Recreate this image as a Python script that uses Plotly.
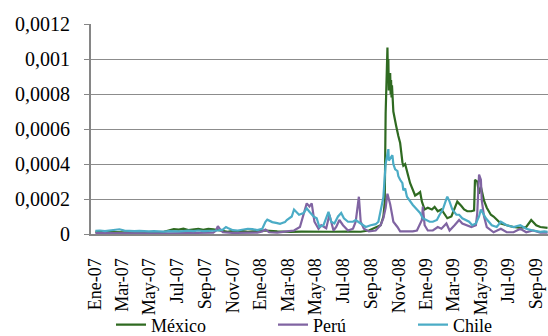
import plotly.graph_objects as go

# Serie diaria de varianza condicional, enero 2007 - septiembre 2009

mexico_dates = [
    "2007-01-02", "2007-01-23", "2007-02-13", "2007-03-07", "2007-03-29", "2007-04-20",
    "2007-05-11", "2007-06-02", "2007-06-13", "2007-06-24", "2007-07-05", "2007-07-15",
    "2007-07-26", "2007-08-06", "2007-08-17", "2007-08-28", "2007-09-08", "2007-09-19",
    "2007-09-29", "2007-10-10", "2007-10-21", "2007-11-01", "2007-11-12", "2007-11-23",
    "2007-12-04", "2007-12-25", "2008-01-12", "2008-02-07", "2008-03-06", "2008-04-01",
    "2008-05-04", "2008-06-05", "2008-07-08", "2008-08-09", "2008-08-27", "2008-09-11",
    "2008-09-22", "2008-09-28", "2008-10-01", "2008-10-03", "2008-10-05", "2008-10-06",
    "2008-10-07", "2008-10-08", "2008-10-09", "2008-10-10", "2008-10-13", "2008-10-14",
    "2008-10-15", "2008-10-16", "2008-10-17", "2008-10-20", "2008-10-23", "2008-10-26",
    "2008-10-31", "2008-11-04", "2008-11-09", "2008-11-11", "2008-11-15", "2008-11-19",
    "2008-11-22", "2008-11-26", "2008-12-02", "2008-12-07", "2008-12-13", "2008-12-18",
    "2008-12-22", "2008-12-28", "2009-01-04", "2009-01-13", "2009-01-19", "2009-01-26",
    "2009-02-03", "2009-02-10", "2009-02-16", "2009-02-25", "2009-03-04", "2009-03-10",
    "2009-03-19", "2009-03-25", "2009-04-01", "2009-04-10", "2009-04-16", "2009-04-18",
    "2009-04-23", "2009-04-27", "2009-05-01", "2009-05-08", "2009-05-14", "2009-05-23",
    "2009-05-29", "2009-06-14", "2009-06-27", "2009-07-12", "2009-07-27", "2009-08-09",
    "2009-08-20", "2009-08-31", "2009-09-09", "2009-09-18", "2009-09-25",
]
mexico_values = [
    0.000012, 0.000010, 0.000012, 0.000010, 0.000011, 0.000009,
    0.000010, 0.000012, 0.000020, 0.000028, 0.000025, 0.000030,
    0.000022, 0.000026, 0.000029, 0.000024, 0.000030, 0.000027,
    0.000022, 0.000015, 0.000012, 0.000018, 0.000014, 0.000016,
    0.000012, 0.000018, 0.000020, 0.000015, 0.000012, 0.000014,
    0.000012, 0.000013, 0.000014, 0.000013, 0.000020, 0.000036,
    0.000050, 0.000100, 0.000180, 0.000690, 0.000880, 0.000950,
    0.001065, 0.000900, 0.001000, 0.000820, 0.000920, 0.000800,
    0.000880, 0.000780, 0.000850, 0.000700, 0.000650, 0.000620,
    0.000560, 0.000520, 0.000410, 0.000390, 0.000400, 0.000350,
    0.000330, 0.000290, 0.000250, 0.000220, 0.000230, 0.000240,
    0.000185, 0.000140, 0.000150, 0.000140, 0.000155, 0.000130,
    0.000140, 0.000110, 0.000090, 0.000100, 0.000150, 0.000185,
    0.000160, 0.000140, 0.000130, 0.000130, 0.000135, 0.000310,
    0.000300, 0.000230, 0.000270, 0.000190, 0.000150, 0.000110,
    0.000100, 0.000060, 0.000050, 0.000040, 0.000035, 0.000040,
    0.000080, 0.000050, 0.000040, 0.000035, 0.000035,
]

peru_dates = [
    "2007-01-02", "2007-02-03", "2007-03-07", "2007-04-09", "2007-05-11", "2007-06-13",
    "2007-07-15", "2007-08-17", "2007-09-08", "2007-09-19", "2007-09-25", "2007-09-29",
    "2007-10-03", "2007-10-10", "2007-11-01", "2007-12-04", "2007-12-25", "2008-01-05",
    "2008-01-12", "2008-01-20", "2008-02-07", "2008-02-28", "2008-03-15", "2008-03-28",
    "2008-04-08", "2008-04-12", "2008-04-18", "2008-04-23", "2008-04-29", "2008-05-08",
    "2008-05-14", "2008-05-25", "2008-06-01", "2008-06-10", "2008-06-16", "2008-06-23",
    "2008-07-01", "2008-07-12", "2008-07-23", "2008-07-29", "2008-08-05", "2008-08-09",
    "2008-08-16", "2008-08-27", "2008-09-11", "2008-09-22", "2008-09-28", "2008-10-03",
    "2008-10-07", "2008-10-09", "2008-10-13", "2008-10-18", "2008-10-20", "2008-10-29",
    "2008-11-04", "2008-11-19", "2008-12-02", "2008-12-11", "2008-12-22", "2008-12-24",
    "2008-12-28", "2009-01-04", "2009-01-15", "2009-01-26", "2009-02-03", "2009-02-14",
    "2009-02-21", "2009-03-04", "2009-03-14", "2009-03-21", "2009-03-30", "2009-04-10",
    "2009-04-20", "2009-04-23", "2009-04-27", "2009-05-01", "2009-05-03", "2009-05-08",
    "2009-05-14", "2009-05-29", "2009-06-14", "2009-06-27", "2009-07-12", "2009-07-27",
    "2009-08-09", "2009-08-24", "2009-09-09", "2009-09-18", "2009-09-25",
]
peru_values = [
    0.000005, 0.000004, 0.000005, 0.000004, 0.000005, 0.000004,
    0.000005, 0.000006, 0.000005, 0.000008, 0.000020, 0.000045,
    0.000030, 0.000010, 0.000006, 0.000005, 0.000008, 0.000015,
    0.000025, 0.000010, 0.000008, 0.000015, 0.000020, 0.000040,
    0.000150, 0.000175, 0.000157, 0.000175, 0.000070, 0.000030,
    0.000050, 0.000033, 0.000110, 0.000020, 0.000040, 0.000080,
    0.000050, 0.000020, 0.000030, 0.000070, 0.000213, 0.000070,
    0.000030, 0.000015, 0.000020, 0.000050, 0.000090, 0.000150,
    0.000230, 0.000210, 0.000170, 0.000100, 0.000070, 0.000040,
    0.000015, 0.000015, 0.000015, 0.000020, 0.000080, 0.000156,
    0.000050, 0.000020, 0.000020, 0.000040, 0.000030, 0.000060,
    0.000020, 0.000050, 0.000080, 0.000060, 0.000050, 0.000040,
    0.000050, 0.000120, 0.000340, 0.000310, 0.000190, 0.000100,
    0.000040, 0.000010, 0.000030, 0.000010, 0.000010, 0.000030,
    0.000010, 0.000020, 0.000008, 0.000010, 0.000008,
]

chile_dates = [
    "2007-01-02", "2007-01-12", "2007-01-23", "2007-02-03", "2007-02-13", "2007-02-24",
    "2007-03-07", "2007-03-18", "2007-03-29", "2007-04-09", "2007-04-20", "2007-04-30",
    "2007-05-11", "2007-05-22", "2007-06-02", "2007-06-13", "2007-06-24", "2007-07-05",
    "2007-07-15", "2007-07-26", "2007-08-06", "2007-08-17", "2007-08-28", "2007-09-08",
    "2007-09-19", "2007-09-29", "2007-10-10", "2007-10-17", "2007-10-21", "2007-11-01",
    "2007-11-12", "2007-11-23", "2007-12-04", "2007-12-14", "2007-12-25", "2008-01-05",
    "2008-01-12", "2008-01-16", "2008-01-20", "2008-01-27", "2008-02-07", "2008-02-13",
    "2008-02-18", "2008-02-24", "2008-02-28", "2008-03-10", "2008-03-15", "2008-03-26",
    "2008-04-05", "2008-04-12", "2008-04-18", "2008-04-27", "2008-05-04", "2008-05-10",
    "2008-05-19", "2008-05-30", "2008-06-05", "2008-06-12", "2008-06-20", "2008-06-27",
    "2008-07-03", "2008-07-12", "2008-07-23", "2008-07-29", "2008-08-09", "2008-08-20",
    "2008-08-31", "2008-09-11", "2008-09-17", "2008-09-26", "2008-09-28", "2008-10-03",
    "2008-10-06", "2008-10-08", "2008-10-09", "2008-10-10", "2008-10-13", "2008-10-18",
    "2008-10-20", "2008-10-24", "2008-10-29", "2008-10-31", "2008-11-04", "2008-11-09",
    "2008-11-11", "2008-11-15", "2008-11-19", "2008-11-26", "2008-12-02", "2008-12-11",
    "2008-12-18", "2008-12-24", "2009-01-02", "2009-01-08", "2009-01-15", "2009-01-24",
    "2009-01-30", "2009-02-06", "2009-02-14", "2009-02-16", "2009-02-21", "2009-02-27",
    "2009-03-08", "2009-03-14", "2009-03-21", "2009-03-30", "2009-04-05", "2009-04-12",
    "2009-04-20", "2009-04-27", "2009-05-01", "2009-05-12", "2009-05-25", "2009-06-05",
    "2009-06-14", "2009-06-27", "2009-07-12", "2009-07-27", "2009-08-09", "2009-08-24",
    "2009-09-09", "2009-09-18", "2009-09-25",
]
chile_values = [
    0.000018, 0.000020, 0.000017, 0.000019, 0.000022, 0.000027,
    0.000019, 0.000017, 0.000016, 0.000018, 0.000016, 0.000015,
    0.000017, 0.000015, 0.000014, 0.000016, 0.000014, 0.000015,
    0.000017, 0.000019, 0.000016, 0.000020, 0.000017, 0.000018,
    0.000016, 0.000020, 0.000025, 0.000040, 0.000035, 0.000022,
    0.000020, 0.000024, 0.000030, 0.000028, 0.000022, 0.000030,
    0.000070, 0.000082, 0.000078, 0.000068, 0.000062, 0.000058,
    0.000063, 0.000068, 0.000080, 0.000100, 0.000140, 0.000110,
    0.000120, 0.000147, 0.000127, 0.000100, 0.000090, 0.000040,
    0.000050, 0.000127, 0.000070, 0.000060, 0.000100, 0.000120,
    0.000090, 0.000070, 0.000070, 0.000080, 0.000060, 0.000040,
    0.000050, 0.000056, 0.000070, 0.000170, 0.000210, 0.000400,
    0.000440, 0.000470, 0.000485, 0.000420, 0.000430, 0.000450,
    0.000400, 0.000370, 0.000360, 0.000330, 0.000310, 0.000290,
    0.000250, 0.000260, 0.000213, 0.000185, 0.000166, 0.000140,
    0.000120, 0.000090, 0.000080, 0.000070, 0.000070, 0.000080,
    0.000110, 0.000140, 0.000200, 0.000213, 0.000185, 0.000140,
    0.000110, 0.000110, 0.000090, 0.000080, 0.000070, 0.000050,
    0.000060, 0.000100, 0.000140, 0.000090, 0.000050, 0.000040,
    0.000070, 0.000050, 0.000040, 0.000050, 0.000030, 0.000020,
    0.000012, 0.000015, 0.000012,
]

x_tick_dates = [
    "2007-01-01", "2007-03-01", "2007-05-01", "2007-07-01", "2007-09-01", "2007-11-01",
    "2008-01-01", "2008-03-01", "2008-05-01", "2008-07-01", "2008-09-01", "2008-11-01",
    "2009-01-01", "2009-03-01", "2009-05-01", "2009-07-01", "2009-09-01",
]
x_tick_labels = [
    "Ene-07", "Mar-07", "May-07", "Jul-07", "Sep-07", "Nov-07",
    "Ene-08", "Mar-08", "May-08", "Jul-08", "Sep-08", "Nov-08",
    "Ene-09", "Mar-09", "May-09", "Jul-09", "Sep-09",
]
y_tick_values = [0, 0.0002, 0.0004, 0.0006, 0.0008, 0.001, 0.0012]
y_tick_labels = ["0", "0,0002", "0,0004", "0,0006", "0,0008", "0,001", "0,0012"]

series = [
    ("México", mexico_dates, mexico_values, "#2f6a21", "legend"),
    ("Perú", peru_dates, peru_values, "#8064a2", "legend2"),
    ("Chile", chile_dates, chile_values, "#4bacc6", "legend3"),
]

FONT = "Liberation Serif"
W, H = 548, 336

fig = go.Figure()
for name, dates, values, color, leg in series:
    fig.add_trace(go.Scatter(
        x=dates, y=values, name=name, mode="lines",
        line=dict(color=color, width=2.2),
        legend=leg,
    ))

legend_style = dict(
    orientation="h", xref="container", yref="container",
    xanchor="left", yanchor="middle",
    font=dict(family=FONT, size=18, color="black"),
    bgcolor="rgba(0,0,0,0)", borderwidth=0,
)

fig.update_layout(
    width=W, height=H,
    margin=dict(l=91, r=0, t=24, b=102),
    paper_bgcolor="white", plot_bgcolor="white",
    font=dict(family=FONT, color="black"),
    showlegend=True,
    legend=dict(x=111 / W, y=1 - 325 / H, **legend_style),
    legend2=dict(x=273 / W, y=1 - 325 / H, **legend_style),
    legend3=dict(x=413 / W, y=1 - 325 / H, **legend_style),
    xaxis=dict(
        type="date",
        range=["2006-12-23 08:00", "2009-09-26"],
        tickvals=x_tick_dates, ticktext=x_tick_labels,
        tickangle=-90, tickfont=dict(family=FONT, size=18, color="black"),
        ticks="outside", ticklen=15, tickcolor="rgba(0,0,0,0)",
        ticklabeloverflow="allow", automargin=False,
        showgrid=False, zeroline=False,
        showline=True, linecolor="#868686", linewidth=2,
        layer="below traces",
    ),
    yaxis=dict(
        range=[0, 0.0012],
        tickvals=y_tick_values, ticktext=y_tick_labels,
        tickfont=dict(family=FONT, size=20, color="black"),
        ticks="outside", ticklen=5, tickcolor="#868686", tickwidth=1,
        ticklabelstandoff=10, automargin=False,
        showgrid=True, gridcolor="#8c8c8c", gridwidth=1,
        zeroline=False,
        showline=True, linecolor="#868686", linewidth=2,
        layer="below traces",
    ),
)

fig.write_html("out.html")
